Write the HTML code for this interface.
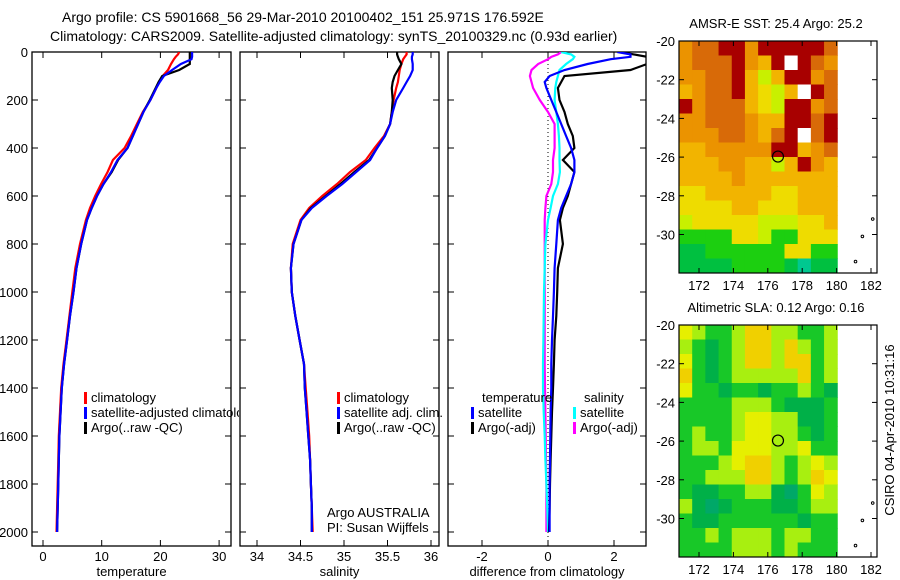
<!DOCTYPE html>
<html><head><meta charset="utf-8"><style>
body{margin:0;background:#fff;}
svg{display:block;font-family:"Liberation Sans",sans-serif;}
</style></head><body>
<svg id="fig" width="900" height="580" viewBox="0 0 900 580">
<rect width="900" height="580" fill="#fff"/>
<text x="62" y="22" font-size="14">Argo profile: CS 5901668_56 29-Mar-2010 20100402_151 25.971S 176.592E</text>
<text x="50" y="41" font-size="14">Climatology: CARS2009. Satellite-adjusted climatology: synTS_20100329.nc (0.93d earlier)</text>
<defs>
<clipPath id="c1"><rect x="32" y="52" width="199" height="494"/></clipPath>
<clipPath id="c2"><rect x="240" y="52" width="199" height="494"/></clipPath>
<clipPath id="c3"><rect x="448" y="52" width="198" height="494"/></clipPath>
<clipPath id="leg1"><rect x="0" y="380" width="239" height="60"/></clipPath>
</defs>
<g id="p1"></g>
<g id="p2"></g>
<g id="p3"></g>
<g id="m1"></g>
<g id="m2"></g>
<text transform="translate(894,430) rotate(-90)" text-anchor="middle" font-size="13">CSIRO 04-Apr-2010 10:31:16</text>
</svg>
<script>
const NS="http://www.w3.org/2000/svg";
const depths=[0,10,20,30,50,75,100,125,150,200,250,300,350,400,450,500,550,600,650,700,800,900,1000,1100,1200,1300,1400,1500,1600,1700,1800,1900,2000];
const tempClim=[23.2,23.0,22.6,22.3,21.8,21.3,20.4,19.8,19.3,18.3,17.0,16.0,15.0,13.9,11.9,11.0,9.9,8.9,8.0,7.3,6.3,5.5,5.0,4.5,4.0,3.5,3.1,2.9,2.7,2.6,2.5,2.4,2.3];
const tempSat=[25.4,25.4,25.4,25.3,23.5,22.0,20.6,19.9,19.3,18.3,17.1,16.2,15.3,14.4,12.7,11.6,10.3,9.2,8.3,7.5,6.5,5.7,5.2,4.6,4.1,3.6,3.2,3.0,2.8,2.7,2.6,2.5,2.4];
const tempArgo=[25.0,25.0,25.0,25.0,25.0,23.2,20.3,19.7,19.2,18.2,17.1,16.2,15.3,14.4,12.8,11.7,10.3,9.2,8.3,7.5,6.5,5.7,5.2,4.6,4.1,3.6,3.2,3.0,2.8,2.7,2.6,2.5,2.4];
const salClim=[35.72,35.72,35.70,35.68,35.66,35.64,35.63,35.62,35.60,35.57,35.55,35.53,35.46,35.35,35.25,35.07,34.92,34.75,34.60,34.50,34.41,34.39,34.40,34.44,34.49,34.54,34.56,34.58,34.60,34.61,34.62,34.63,34.64];
const salSat=[35.79,35.79,35.78,35.78,35.79,35.79,35.76,35.72,35.68,35.60,35.56,35.53,35.47,35.38,35.30,35.14,34.98,34.80,34.63,34.51,34.42,34.39,34.40,34.44,34.49,34.54,34.55,34.57,34.59,34.61,34.62,34.63,34.63];
const salArgo=[35.61,35.61,35.62,35.63,35.66,35.62,35.58,35.56,35.55,35.56,35.55,35.53,35.47,35.38,35.29,35.12,34.96,34.79,34.62,34.51,34.42,34.39,34.40,34.44,34.49,34.54,34.55,34.57,34.59,34.61,34.62,34.63,34.63];
const dTempSat=[2.1,2.5,2.5,1.9,1.2,0.5,0.05,-0.1,-0.05,0.1,0.25,0.4,0.55,0.7,0.8,0.8,0.7,0.55,0.4,0.3,0.25,0.2,0.18,0.15,0.12,0.1,0.1,0.08,0.07,0.06,0.05,0.05,0.05];
const dTempArgo=[2.2,2.6,3.0,3.0,3.0,2.5,0.5,0.4,0.3,0.35,0.5,0.6,0.75,0.8,0.45,0.8,0.7,0.6,0.45,0.36,0.45,0.3,0.28,0.25,0.2,0.18,0.15,0.12,0.1,0.08,0.06,0.05,0.03];
const dSalSat=[0.4,0.7,0.8,0.75,0.55,0.35,0.3,0.25,0.22,0.2,0.25,0.3,0.33,0.35,0.35,0.36,0.3,0.15,0.08,0.0,-0.08,-0.1,-0.12,-0.13,-0.14,-0.15,-0.15,-0.13,-0.1,-0.08,-0.05,-0.02,0.0];
const dSalArgo=[0.4,0.3,0.1,0.0,-0.3,-0.5,-0.55,-0.5,-0.45,-0.25,0.0,0.2,0.2,0.2,0.15,0.15,0.1,-0.05,-0.08,-0.1,-0.1,-0.1,-0.1,-0.1,-0.1,-0.1,-0.09,-0.08,-0.07,-0.06,-0.05,-0.05,-0.05];
const tempTicks=[0,10,20,30];
const salTicks=[34,34.5,35,35.5,36];
const diffTicks=[-2,0,2];
const depthTicks=[0,200,400,600,800,1000,1200,1400,1600,1800,2000];
const lonTicks=[172,174,176,178,180,182];
const latTicks=[-20,-22,-24,-26,-28,-30];
const sstGrid=["oOORRoRRRRRO","oOOORoaRwROo","ooOORalaRRoO","aoOORaylawRO","RoOOOaylRRoO","ooOOOoaaRROR","oooOOoaORwOR","aaoooooRRaoO","aaaooaalaRoa","aaaaoaaaaaaa","yyaaaaayyaaa","yyyyaayyyaaa","lyyyyylllyya","ggggyylggyyy","GGggggggyygg","GGGGggggGtGG"];
const slaGrid=["ylgglYYllggl","lgGglYYlYlgl","ygGglYYlYYgl","YgGglllllYgl","yggGggGgglgG","gggglllgGGGg","gggglyyllGGg","glgglyyllgGg","gllgyyyllygg","ggglyYYlglyl","gglllYYlglYy","gGGggllGtgyl","lGtGgggGGgll","gGGggggggGgg","gglglllgllgg","gggglllglggg"];
const sstCol={R:"#a80000",O:"#d86a08",o:"#eb9300",a:"#f2b400",y:"#eedc00",l:"#c8f000",g:"#1ccf10",G:"#00c040",t:"#00c890",w:"#ffffff"};
const slaCol={Y:"#f0d000",y:"#e6ef00",l:"#a8ef10",g:"#18c828",G:"#00b048",t:"#00a868"};

function el(tag,attrs,parent,txt){const e=document.createElementNS(NS,tag);for(const k in attrs)e.setAttribute(k,attrs[k]);if(txt!==undefined)e.textContent=txt;parent.appendChild(e);return e;}
const yD=d=>52+0.24*d;

function panel(g,x0,x1,xs,ticks,label,clip,showY){
  el("rect",{x:x0,y:52,width:x1-x0,height:494,fill:"none",stroke:"#000","stroke-width":1.3},g);
  for(const t of ticks){const x=xs(t);
    el("line",{x1:x,x2:x,y1:546,y2:540,stroke:"#000"},g);
    el("line",{x1:x,x2:x,y1:52,y2:58,stroke:"#000"},g);
    const tl=el("text",{x:x,y:561,"text-anchor":"middle","font-size":13},g,String(t));
    
    
  }
  for(const d of depthTicks){const y=yD(d);
    el("line",{x1:x0,x2:x0+6,y1:y,y2:y,stroke:"#000"},g);
    el("line",{x1:x1-6,x2:x1,y1:y,y2:y,stroke:"#000"},g);
    if(showY){const tl=el("text",{x:x0-4,y:y+5,"text-anchor":"end","font-size":13},g,String(d));
      
      }
  }
  const xl=el("text",{x:(x0+x1)/2,y:576,"text-anchor":"middle","font-size":13},g,label);
  
  
}
function line(g,vals,xs,color,clip,name){
  const pts=vals.map((v,i)=>xs(v).toFixed(1)+","+yD(depths[i]).toFixed(1)).join(" ");
  const p=el("polyline",{points:pts,fill:"none",stroke:color,"stroke-width":2.2,"clip-path":"url(#"+clip+")"},g);
  
  
}
function legend(g,x,y,items,clip){
  const lg=el("g",clip?{"clip-path":"url(#"+clip+")"}:{},g);
  
  
  items.forEach((it,i)=>{
    el("rect",{x:x,y:y+i*15-10,width:3,height:12,fill:it[1]},lg);
    const t=el("text",{x:x+7,y:y+i*15,"font-size":13},lg,it[0]);
    
    
  });
}
const xT=v=>43+5.87*v;
const p1=document.getElementById("p1");
panel(p1,32,231,xT,tempTicks,"temperature","c1",true);
line(p1,tempClim,xT,"#f00","c1","temp-climatology-line");
line(p1,tempArgo,xT,"#000","c1","temp-argo-line");
line(p1,tempSat,xT,"#00f","c1","temp-satellite-line");
legend(p1,84,402,[["climatology","#f00"],["satellite-adjusted climatology","#00f"],["Argo(..raw -QC)","#000"]],"leg1");
const xS=v=>257+87*(v-34);
const p2=document.getElementById("p2");
panel(p2,240,439,xS,salTicks,"salinity","c2",false);
line(p2,salClim,xS,"#f00","c2","sal-climatology-line");
line(p2,salArgo,xS,"#000","c2","sal-argo-line");
line(p2,salSat,xS,"#00f","c2","sal-satellite-line");
legend(p2,337,402,[["climatology","#f00"],["satellite adj. clim.","#00f"],["Argo(..raw -QC)","#000"]]);
el("text",{x:327,y:517,"font-size":13},p2,"Argo AUSTRALIA");
el("text",{x:327,y:532,"font-size":13},p2,"PI: Susan Wijffels");
const xDf=v=>548+33*v;
const p3=document.getElementById("p3");
panel(p3,448,646,xDf,diffTicks,"difference from climatology","c3",false);
el("line",{x1:548,x2:548,y1:52,y2:546,stroke:"#000","stroke-dasharray":"1,3"},p3);
line(p3,dSalArgo,xDf,"#f0f","c3","sal-argo-diff-line");
line(p3,dSalSat,xDf,"#0ff","c3","sal-satellite-diff-line");
line(p3,dTempArgo,xDf,"#000","c3","temp-argo-diff-line");
line(p3,dTempSat,xDf,"#00f","c3","temp-satellite-diff-line");
el("text",{x:482,y:402,"font-size":13},p3,"temperature");
el("text",{x:584,y:402,"font-size":13},p3,"salinity");
legend(p3,471,417,[["satellite","#00f"],["Argo(-adj)","#000"]]);
legend(p3,573,417,[["satellite","#0ff"],["Argo(-adj)","#f0f"]]);
function map(g,top,grid,cols,title){
  const xL=v=>699+17.2*(v-172);
  const yL=v=>top+19.35*(-20-v);
  const bottom=top+232;
  const nr=grid.length,nc=grid[0].length;
  const cw=(xL(180.2)-xL(171))/nc, ch=(bottom-top)/nr;
  grid.forEach((row,r)=>{for(let c=0;c<nc;c++){
    const cell=el("rect",{x:(679+c*cw).toFixed(2),y:(top+r*ch).toFixed(2),width:(cw+0.5).toFixed(2),height:(ch+0.5).toFixed(2),fill:cols[row[c]]},g);
    
    
  }});
  el("rect",{x:679,y:top,width:198,height:bottom-top,fill:"none",stroke:"#000","stroke-width":1.2},g);
  for(const t of lonTicks){const x=xL(t);
    el("line",{x1:x,x2:x,y1:bottom,y2:bottom-5,stroke:"#000"},g);
    el("line",{x1:x,x2:x,y1:top,y2:top+5,stroke:"#000"},g);
    el("text",{x:x,y:bottom+17,"text-anchor":"middle","font-size":13},g,String(t));}
  for(const t of latTicks){const y=yL(t);
    el("line",{x1:679,x2:684,y1:y,y2:y,stroke:"#000"},g);
    el("line",{x1:872,x2:877,y1:y,y2:y,stroke:"#000"},g);
    el("text",{x:675,y:y+5,"text-anchor":"end","font-size":13},g,String(t));}
  el("circle",{cx:xL(176.592),cy:yL(-25.971),r:5.5,fill:"none",stroke:"#000","stroke-width":1.2},g);
  el("circle",{cx:xL(182.1),cy:yL(-29.2),r:1.3,fill:"none",stroke:"#000"},g);
  el("circle",{cx:xL(181.5),cy:yL(-30.1),r:1.3,fill:"none",stroke:"#000"},g);
  el("circle",{cx:xL(181.1),cy:yL(-31.4),r:1.3,fill:"none",stroke:"#000"},g);
  const tt=el("text",{x:776,y:top-13,"text-anchor":"middle","font-size":13},g,title);
  
  
}
map(document.getElementById("m1"),41,sstGrid,sstCol,"AMSR-E SST: 25.4 Argo: 25.2");
map(document.getElementById("m2"),325,slaGrid,slaCol,"Altimetric SLA: 0.12 Argo: 0.16");
</script>
</body></html>
